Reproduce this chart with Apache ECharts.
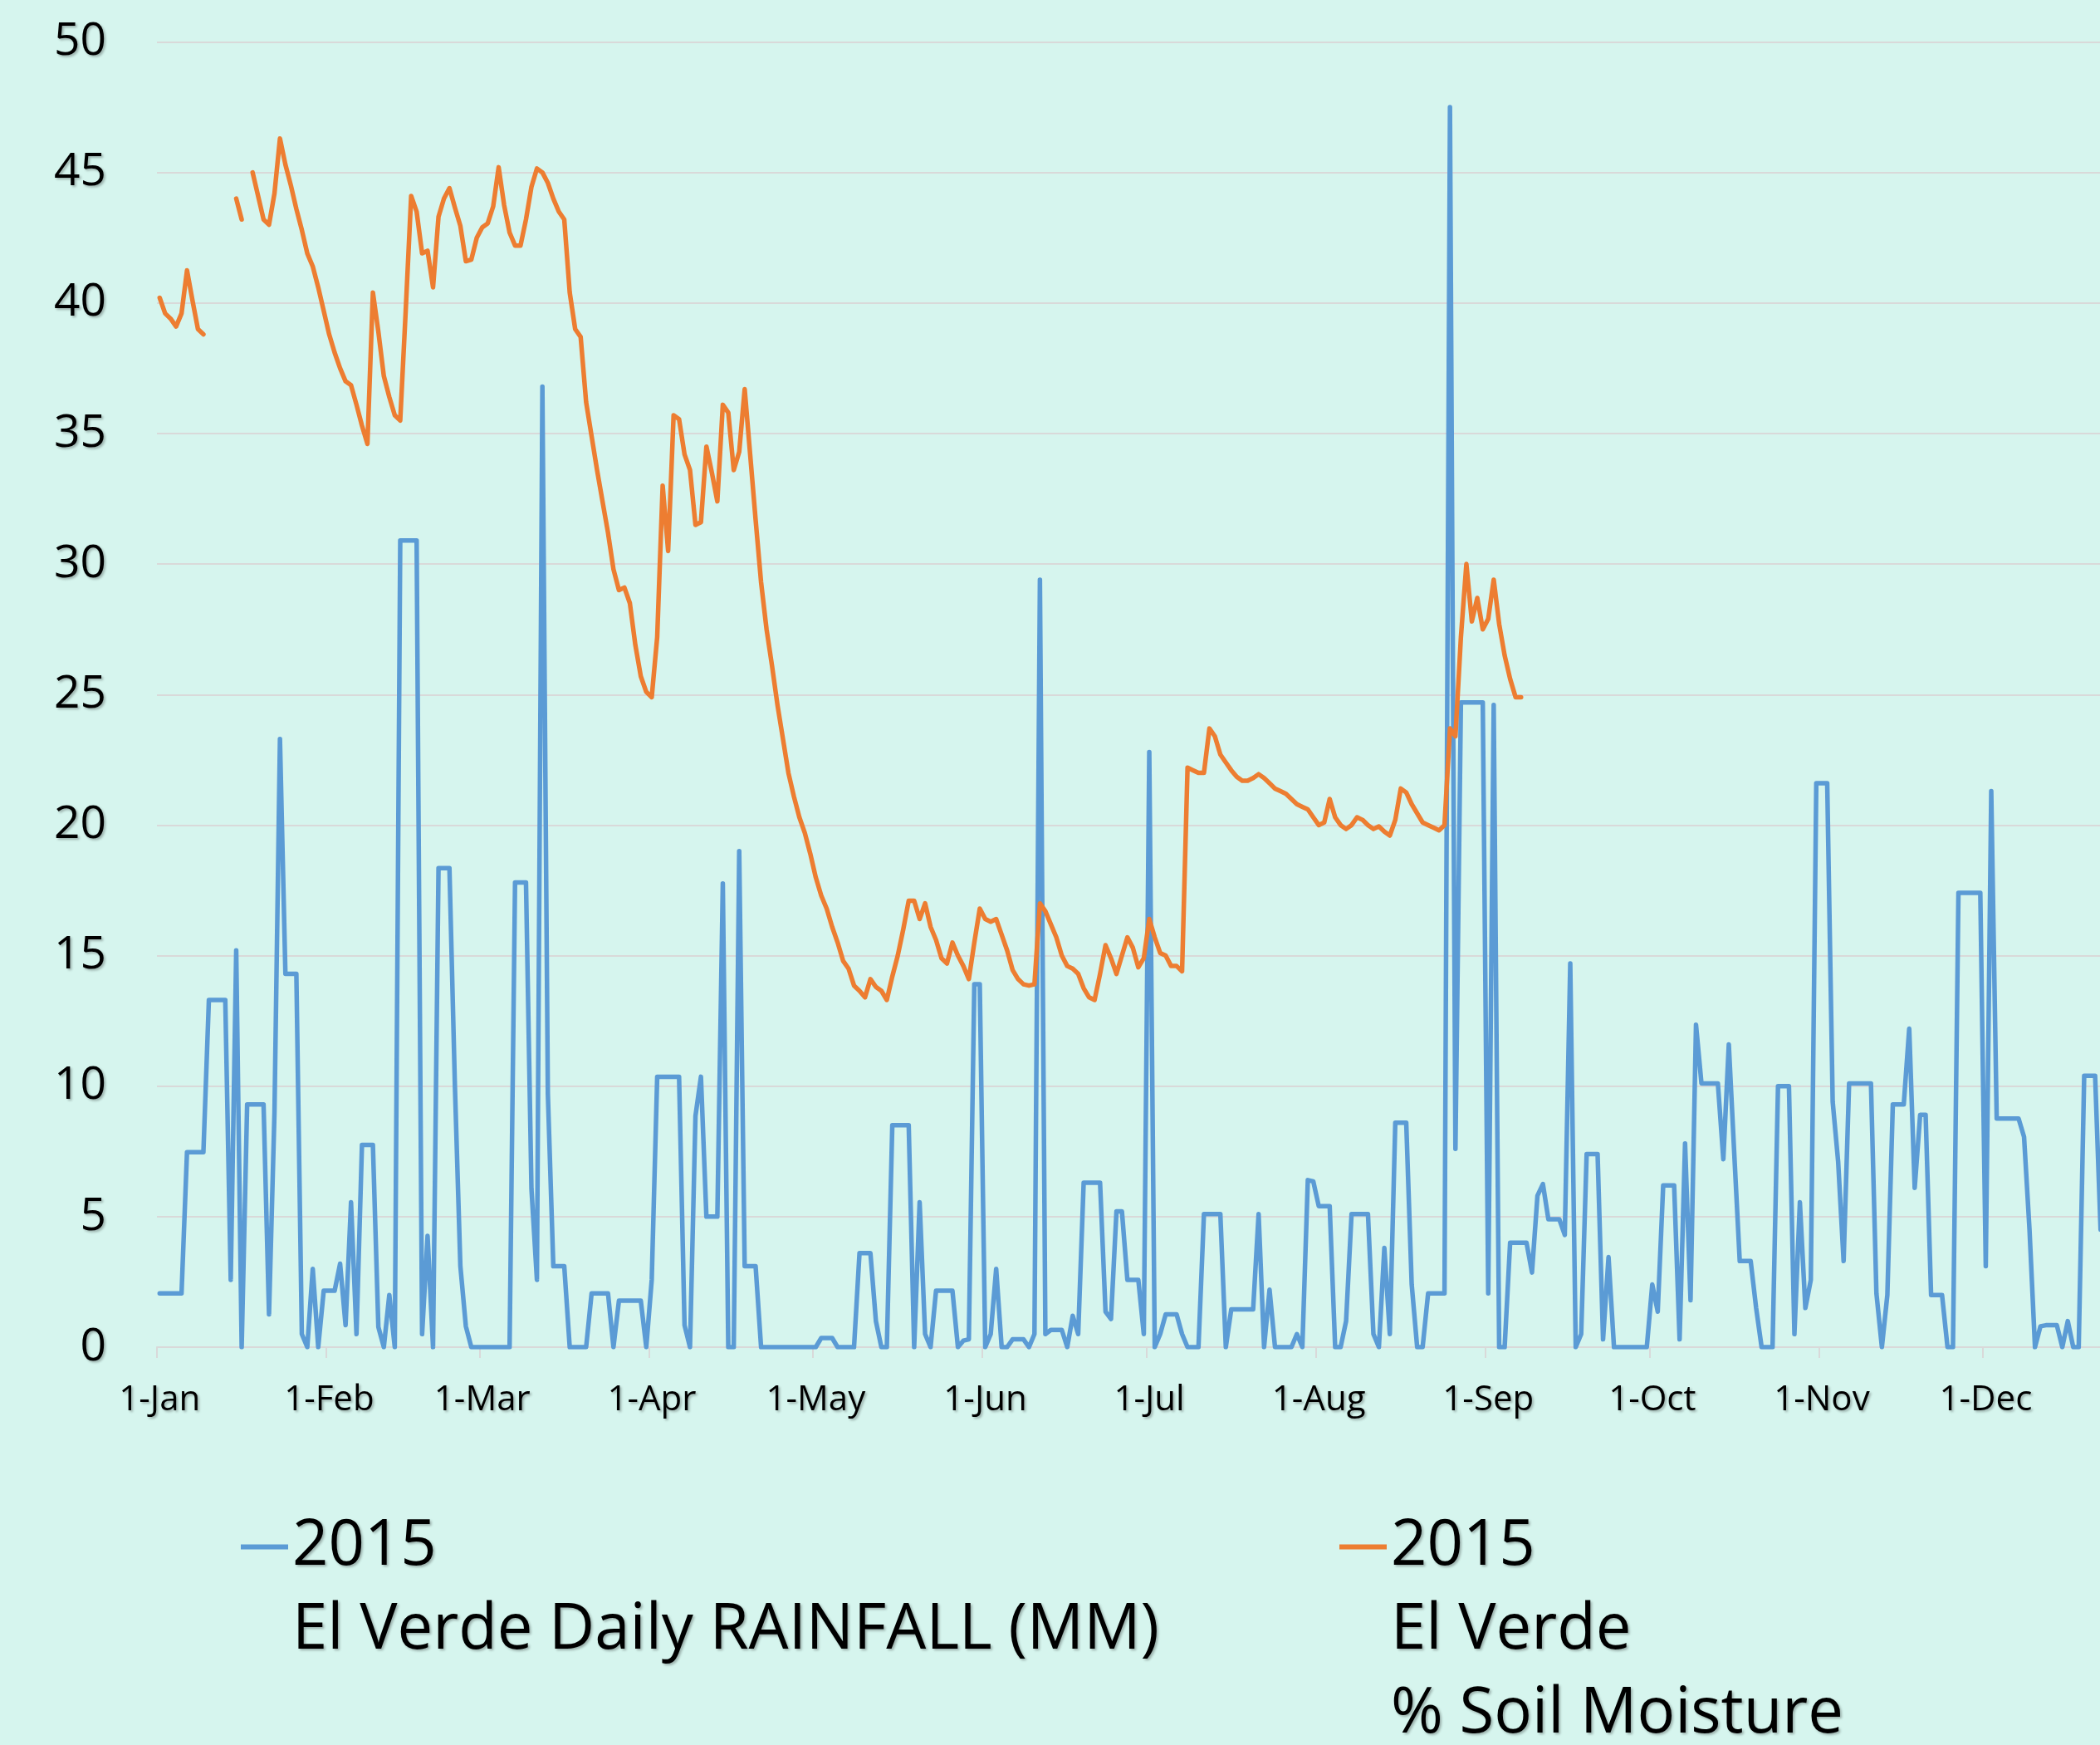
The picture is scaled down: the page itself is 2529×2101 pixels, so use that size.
<!DOCTYPE html>
<html>
<head>
<meta charset="utf-8">
<script src="https://cdn.jsdelivr.net/npm/echarts@6/dist/echarts.min.js"></script>
<style>
html,body{margin:0;padding:0;background:#d6f5ee;}
#chart{width:2529px;height:2101px;}
</style>
</head>
<body>
<div id="chart"></div>
<script>
// ---- data ----
const monthNames = ['Jan','Feb','Mar','Apr','May','Jun','Jul','Aug','Sep','Oct','Nov','Dec'];
const monthDays = [31,28,31,30,31,30,31,31,30,31,30,31];

const rainName = '2015\nEl Verde Daily RAINFALL (MM)';
const soilName = '2015\nEl Verde\n% Soil Moisture';

// daily rainfall (mm), 1-Jan .. 22-Dec (visible part)
const rainfall = [
2.06,2.06,2.06,2.06,2.06,
7.47,7.47,7.47,7.47,
13.3,13.3,13.3,13.3,
2.58,15.2,0,
9.3,9.3,9.3,9.3,
1.26,9.0,23.3,
14.3,14.3,14.3,
0.5,0,3.0,0,
2.16,2.16,2.16,
3.2,0.84,5.55,0.5,
7.75,7.75,7.75,
0.77,0,2.0,0,
30.9,30.9,30.9,30.9,
0.5,4.26,0,
18.35,18.35,18.35,
10.0,3.1,0.8,
0,0,0,0,0,0,0,0,
17.8,17.8,17.8,
6.07,2.58,36.8,9.7,
3.1,3.1,3.1,
0,0,0,0,
2.06,2.06,2.06,2.06,
0,
1.78,1.78,1.78,1.78,1.78,
0,2.58,
10.36,10.36,10.36,10.36,10.36,
0.84,0,8.86,10.36,
5.0,5.0,5.0,
17.76,0,0,19.0,
3.1,3.1,3.1,
0,0,0,0,0,0,0,0,0,0,0,
0.35,0.35,0.35,
0,0,0,0,
3.6,3.6,3.6,
1.0,0,0,
8.5,8.5,8.5,8.5,
0,5.55,0.5,0,
2.16,2.16,2.16,2.16,
0,0.25,0.3,
13.9,13.9,
0,0.5,3.0,0,0,
0.3,0.3,0.3,
0,0.5,29.4,0.5,
0.66,0.66,0.66,
0,1.2,0.5,
6.3,6.3,6.3,6.3,
1.36,1.08,5.2,5.2,
2.58,2.58,2.58,
0.5,22.8,0,0.5,
1.26,1.26,1.26,
0.5,0,0,0,
5.1,5.1,5.1,5.1,
0,
1.45,1.45,1.45,1.45,1.45,
5.1,0,2.2,
0,0,0,0,
0.5,0,6.4,6.35,
5.4,5.4,5.4,
0,0,1.0,
5.1,5.1,5.1,5.1,
0.5,0,3.8,0.5,
8.6,8.6,8.6,
2.4,0,0,
2.06,2.06,2.06,2.06,
47.5,7.6,
24.7,24.7,24.7,24.7,24.7,
2.06,24.6,0,0,
4.0,4.0,4.0,4.0,
2.86,5.8,6.25,
4.9,4.9,4.9,
4.3,14.7,0,0.5,
7.4,7.4,7.4,
0.3,3.45,
0,0,0,0,0,0,0,
2.4,1.36,
6.2,6.2,6.2,
0.3,7.8,1.8,12.35,
10.1,10.1,10.1,10.1,
7.2,11.6,7.4,
3.3,3.3,3.3,
1.5,0,0,0,
10.0,10.0,10.0,
0.5,5.55,1.5,2.58,
21.6,21.6,21.6,
9.4,7.1,3.3,
10.1,10.1,10.1,10.1,10.1,
2.06,0,2.0,
9.3,9.3,9.3,
12.2,6.1,
8.9,8.9,
2.0,2.0,2.0,
0,0,
17.4,17.4,17.4,17.4,17.4,
3.1,21.3,
8.76,8.76,8.76,8.76,8.76,
8.06,4.5,0,0.8,
0.84,0.84,0.84,
0,1.0,0,0,
10.4,10.4,10.4,
4.5
];

// daily % soil moisture, 1-Jan .. 6-Sep (null = missing)
const soilMoisture = [
40.2,39.6,39.4,39.1,39.6,41.25,40.1,39.0,38.8,null,
null,null,null,null,44.0,43.2,null,45.0,44.1,43.2,
43.0,44.2,46.3,45.3,44.5,43.6,42.8,41.9,41.4,40.6,
39.7,38.8,38.1,37.5,37.0,36.85,36.1,35.3,34.6,40.4,
38.9,37.2,36.4,35.7,35.5,39.7,44.1,43.5,41.9,42.0,
40.6,43.3,44.0,44.4,43.65,42.95,41.6,41.66,42.5,42.9,
43.05,43.7,45.2,43.75,42.7,42.2,42.2,43.2,44.45,45.15,
45.0,44.6,44.0,43.5,43.2,40.4,39.0,38.7,36.2,34.9,
33.6,32.4,31.2,29.8,29.0,29.1,28.5,26.9,25.7,25.1,
24.9,27.2,33.0,30.5,35.7,35.55,34.2,33.6,31.5,31.6,
34.5,33.5,32.4,36.1,35.8,33.6,34.3,36.7,34.2,31.7,
29.3,27.5,26.1,24.6,23.3,22.0,21.1,20.3,19.7,18.9,
18.0,17.3,16.8,16.1,15.5,14.8,14.5,13.85,13.65,13.4,
14.1,13.8,13.65,13.3,14.2,15.0,16.0,17.1,17.1,16.4,
17.0,16.1,15.6,14.9,14.7,15.5,15.0,14.6,14.1,15.5,
16.8,16.4,16.3,16.4,15.8,15.2,14.45,14.1,13.9,13.85,
13.9,17.0,16.7,16.2,15.7,15.0,14.6,14.5,14.3,13.75,
13.4,13.3,14.3,15.4,14.9,14.3,15.0,15.7,15.3,14.55,
14.9,16.4,15.7,15.1,15.0,14.6,14.6,14.4,22.2,22.1,
22.0,22.0,23.7,23.4,22.7,22.4,22.1,21.85,21.7,21.7,
21.8,21.95,21.8,21.6,21.4,21.3,21.2,21.0,20.8,20.7,
20.6,20.3,20.0,20.1,21.0,20.3,20.0,19.85,20.0,20.3,
20.2,20.0,19.85,19.95,19.75,19.6,20.2,21.4,21.25,20.8,
20.45,20.1,20.0,19.9,19.8,20.0,23.7,23.4,27.2,30.0,
27.8,28.7,27.5,27.9,29.4,27.7,26.5,25.6,24.9,24.9
];

const yMin = 0, yMax = 50, yStep = 5;

// ---- categories (one per day) ----
const days = [];
for (let m = 0; m < 12; m++) {
  for (let d = 1; d <= monthDays[m]; d++) days.push(d + '-' + monthNames[m]);
}
const categories = days.slice(0, rainfall.length);

// ---- chart ----
const FONT = '"Open Sans", "Noto Sans", sans-serif';
const shadow = {textShadowColor:'rgba(0,0,0,0.28)', textShadowBlur:3, textShadowOffsetX:2, textShadowOffsetY:2};
const isMonthStart = (i, v) => typeof v === 'string' && v.indexOf('1-') === 0;

// legend line marker sits beside the first text line (text block is centred on the icon box)
const LH = 101;
function legendIcon(lines) {
  const h = lines * LH;
  return 'path://M0,47.5H57V53.5H0Z M0,0H0.01V0.01H0Z M56.99,' + (h - 0.01) + 'H57V' + h + 'H56.99Z';
}

const chart = echarts.init(document.getElementById('chart'), null, {renderer:'canvas', width:2529, height:2101});
chart.setOption({
  backgroundColor:'#d6f5ee',
  animation:false,
  grid:{left:189, right:-4, top:50.5, bottom:479, containLabel:false, outerBoundsMode:'none'},
  xAxis:{
    type:'category', data:categories, boundaryGap:true,
    axisLine:{show:true, lineStyle:{color:'#d9d9d9', width:2}},
    axisTick:{show:true, interval:isMonthStart, length:13, lineStyle:{color:'#d9d9d9', width:2}},
    axisLabel:Object.assign({interval:isMonthStart, margin:43, fontSize:42, fontFamily:FONT, color:'#000'}, shadow),
    splitLine:{show:false}
  },
  yAxis:{
    type:'value', min:yMin, max:yMax, interval:yStep,
    axisLine:{show:false}, axisTick:{show:false},
    axisLabel:Object.assign({margin:61, fontSize:55, fontFamily:FONT, color:'#000'}, shadow),
    splitLine:{lineStyle:{color:'#d9d9d9', width:2}}
  },
  legend:[
    {data:[rainName], left:290, top:1812, padding:0, icon:legendIcon(2), itemWidth:57, itemHeight:2 * LH, selectedMode:false,
     textStyle:Object.assign({fontSize:76, fontFamily:FONT, color:'#000', lineHeight:LH}, shadow)},
    {data:[soilName], left:1613, top:1812, padding:0, icon:legendIcon(3), itemWidth:57, itemHeight:3 * LH, selectedMode:false,
     textStyle:Object.assign({fontSize:76, fontFamily:FONT, color:'#000', lineHeight:LH}, shadow)}
  ],
  series:[
    {name:rainName, type:'line', data:rainfall, symbol:'none', showSymbol:false, connectNulls:false,
     itemStyle:{color:'#5b9bd5'}, lineStyle:{color:'#5b9bd5', width:5.5, join:'round', cap:'round'}},
    {name:soilName, type:'line', data:soilMoisture, symbol:'none', showSymbol:false, connectNulls:false,
     itemStyle:{color:'#ed7d31'}, lineStyle:{color:'#ed7d31', width:5.5, join:'round', cap:'round'}}
  ]
});
</script>
</body>
</html>
